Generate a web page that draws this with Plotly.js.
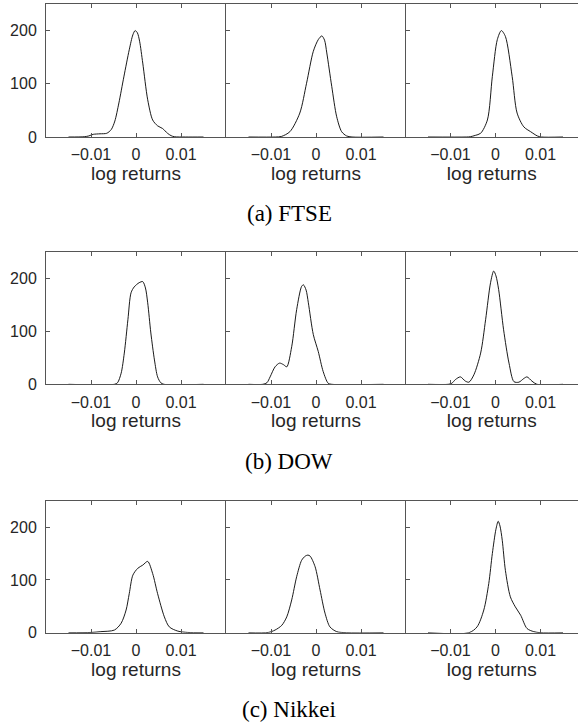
<!DOCTYPE html>
<html>
<head>
<meta charset="utf-8">
<script src="https://cdn.plot.ly/plotly-3.0.1.min.js"></script>
<style>html,body{margin:0;padding:0;background:#fff;}#chart{width:578px;height:724px;}</style>
</head>
<body>
<div id="chart"></div>
<script>
// ---- data (density of log returns) ----
const rowCaptions = ["(a) FTSE", "(b) DOW", "(c) Nikkei"];
const xTickVals = [-0.01, 0, 0.01];
const xTickText = ["\u22120.01", "0", "0.01"];
const yTickVals = [0, 100, 200];
const yTickText = ["0", "100", "200"];
const xTitle = "log returns";

const ftse1_x = [-0.015, -0.0115, -0.0105, -0.0095, -0.008, -0.0065, -0.0055, -0.0047, -0.0038, -0.0027, -0.0015, -0.0007, -0.0002, 0.0003, 0.0008, 0.0015, 0.0026, 0.0037, 0.0048, 0.0059, 0.007, 0.0078, 0.0085, 0.011, 0.015];
const ftse1_y = [0, 0.5, 2, 5, 6, 7, 14, 30, 64, 113, 164, 192, 200, 196, 180, 139, 70, 32, 21, 16, 7, 2.5, 0.5, 0, 0];
const ftse2_x = [-0.015, -0.009, -0.0077, -0.0058, -0.0036, -0.0021, -0.0006, 0.0005, 0.0013, 0.0019, 0.0024, 0.0035, 0.0046, 0.0057, 0.0068, 0.008, 0.015];
const ftse2_y = [0, 0, 1, 10, 45, 101, 161, 183, 190, 182, 158, 95, 38, 10, 2, 0, 0];
const ftse3_x = [-0.015, -0.0065, -0.0056, -0.0045, -0.0033, -0.0018, -0.0007, 0.0004, 0.0013, 0.0022, 0.0037, 0.0048, 0.0063, 0.0078, 0.0093, 0.0102, 0.015];
const ftse3_y = [0, 0, 0.5, 3, 7, 32, 114, 183, 200, 189, 114, 45, 19, 10, 2, 0, 0];

const dow1_x = [-0.015, -0.0048, -0.0041, -0.0033, -0.0026, -0.0018, -0.0011, -0.0004, 0.0007, 0.0015, 0.0021, 0.0026, 0.0033, 0.0041, 0.0048, 0.0055, 0.0062, 0.015];
const dow1_y = [0, 0, 3, 21, 59, 122, 173, 184, 192, 194, 182, 154, 97, 46, 14, 3, 0, 0];
const dow2_x = [-0.015, -0.0118, -0.0109, -0.0102, -0.0091, -0.0081, -0.0072, -0.0065, -0.0054, -0.0043, -0.0032, -0.0028, -0.0022, -0.0017, -0.0006, 0.0005, 0.0016, 0.0027, 0.0035, 0.015];
const dow2_y = [0, 0, 3, 14, 33, 40, 37, 33, 71, 141, 185, 188, 178, 154, 94, 62, 24, 2, 0, 0];
const dow3_x = [-0.015, -0.0105, -0.0097, -0.0089, -0.0078, -0.0067, -0.0059, -0.0048, -0.0033, -0.0022, -0.0011, -0.0004, 0.0001, 0.0007, 0.0018, 0.003, 0.0041, 0.0052, 0.0063, 0.007, 0.0081, 0.0092, 0.015];
const dow3_y = [0, 0, 2, 9, 14, 6, 4, 18, 59, 122, 192, 214, 205, 179, 103, 40, 5, 4, 11, 14, 6, 0, 0];

const nikkei1_x = [-0.015, -0.01, -0.0078, -0.0048, -0.0033, -0.0022, -0.0015, -0.0007, 0.0004, 0.0015, 0.0026, 0.0037, 0.0048, 0.0063, 0.0074, 0.0093, 0.0115, 0.015];
const nikkei1_y = [0, 0.5, 2, 5, 18, 43, 74, 109, 122, 128, 135, 112, 74, 30, 11, 3, 0.5, 0];
const nikkei2_x = [-0.015, -0.0106, -0.0091, -0.0076, -0.0065, -0.0054, -0.0043, -0.0032, -0.0024, -0.0018, -0.0013, -0.0002, 0.0009, 0.002, 0.0031, 0.0046, 0.0068, 0.015];
const nikkei2_y = [0, 0.5, 5, 14, 30, 62, 106, 137, 145, 147, 145, 125, 81, 37, 11, 2, 0, 0];
const nikkei3_x = [-0.015, -0.0059, -0.0041, -0.0026, -0.0015, -0.0007, 0.0001, 0.0006, 0.001, 0.0015, 0.0022, 0.0033, 0.0044, 0.0056, 0.007, 0.0085, 0.01, 0.015];
const nikkei3_y = [0, 0, 11, 43, 93, 150, 196, 211, 202, 175, 118, 68, 49, 33, 8, 2, 0, 0];

const series = [
  [ftse1_x, ftse1_y], [ftse2_x, ftse2_y], [ftse3_x, ftse3_y],
  [dow1_x, dow1_y], [dow2_x, dow2_y], [dow3_x, dow3_y],
  [nikkei1_x, nikkei1_y], [nikkei2_x, nikkei2_y], [nikkei3_x, nikkei3_y]
];

// ---- layout geometry (pixels) ----
const W = 578, H = 724;
const colLeft = [46, 226, 405.5];
const colW = 180;
const rowTop = [4, 252, 500.7];
const rowBottom = [137, 384.3, 632.7];
const captionY = [214, 461.5, 709.5];

const axisColor = '#555555';
const textColor = '#262626';
const tickFont = {family: 'Liberation Sans, Arial, sans-serif', size: 16, color: textColor};

const data = [];
const layout = {
  width: W, height: H,
  margin: {l: 0, r: 0, t: 0, b: 0},
  paper_bgcolor: '#fff', plot_bgcolor: '#fff',
  showlegend: false,
  annotations: []
};

for (let i = 0; i < 9; i++) {
  const r = Math.floor(i / 3), c = i % 3;
  const n = i + 1;
  const xk = n === 1 ? 'xaxis' : 'xaxis' + n;
  const yk = n === 1 ? 'yaxis' : 'yaxis' + n;
  const xid = n === 1 ? 'x' : 'x' + n;
  const yid = n === 1 ? 'y' : 'y' + n;
  const x0 = colLeft[c];
  const x1 = Math.min(x0 + colW, W);
  const xmax = -0.02 + 0.04 * (x1 - x0) / colW;
  data.push({
    x: series[i][0], y: series[i][1], xaxis: xid, yaxis: yid,
    type: 'scatter', mode: 'lines',
    line: {color: '#000', width: 0.9, shape: 'spline', smoothing: 0.8},
    hoverinfo: 'skip'
  });
  layout[xk] = {
    domain: [x0 / W, x1 / W],
    anchor: yid,
    range: [-0.02, xmax],
    tickmode: 'array', tickvals: xTickVals, ticktext: xTickText,
    ticks: 'inside', ticklen: 4, tickcolor: axisColor, tickwidth: 1,
    showline: true, linecolor: axisColor, linewidth: 1, mirror: 'ticks',
    showgrid: false, zeroline: false,
    tickfont: tickFont, ticklabelstandoff: 3,
    automargin: false,
    title: {text: xTitle, font: {family: 'Liberation Sans, Arial, sans-serif', size: 19, color: textColor}, standoff: 1}
  };
  layout[yk] = {
    domain: [1 - rowBottom[r] / H, 1 - rowTop[r] / H],
    anchor: xid,
    range: [0, 250],
    tickmode: 'array', tickvals: yTickVals, ticktext: yTickText,
    ticks: 'inside', ticklen: 4, tickcolor: axisColor, tickwidth: 1,
    showline: true, linecolor: axisColor, linewidth: 1, mirror: false,
    showgrid: false, zeroline: false,
    showticklabels: c === 0,
    tickfont: tickFont, ticklabelstandoff: 5,
    automargin: false
  };
}

for (let r = 0; r < 3; r++) {
  layout.annotations.push({
    text: rowCaptions[r], xref: 'paper', yref: 'paper',
    x: 289 / W, y: 1 - captionY[r] / H, xanchor: 'center', yanchor: 'middle',
    showarrow: false,
    font: {family: 'Liberation Serif', size: 23, color: '#000'}
  });
}

Plotly.newPlot('chart', data, layout, {staticPlot: true, displayModeBar: false});
</script>
</body>
</html>
